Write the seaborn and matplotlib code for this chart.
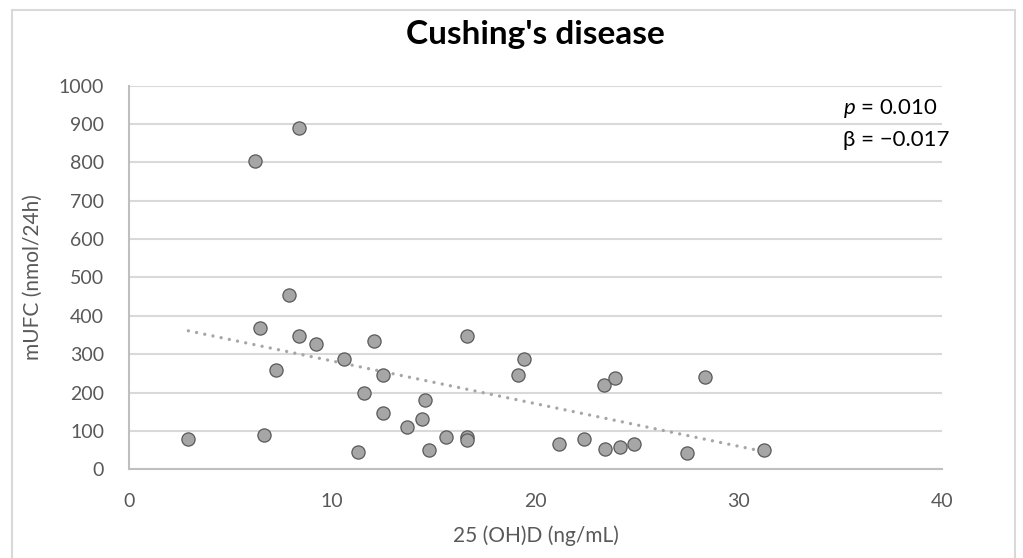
import numpy as np
import pandas as pd
import matplotlib.pyplot as plt
import matplotlib.patches as patches
import seaborn as sns

# 25(OH)D vs mUFC, Cushing's disease
vitd = [2.92, 6.21, 8.36, 7.86, 6.44, 8.36, 9.18, 7.25, 6.63, 10.56,
        12.07, 12.51, 11.56, 12.51, 11.25, 13.69, 14.55, 14.43, 14.76, 15.58,
        16.63, 16.63, 16.63, 19.43, 19.12, 21.17, 22.37, 23.38, 23.89, 23.43,
        24.15, 24.87, 27.45, 28.32, 31.25]
mufc = [80, 805, 890, 454, 368, 347, 326, 260, 90, 288,
        335, 245, 199, 148, 45, 110, 180, 131, 50, 85,
        347, 85, 77, 288, 245, 67, 78, 221, 239, 54,
        59, 67, 42, 241, 50]
# linear trendline end points as shown in the chart
trend_x = [2.92, 31.25]
trend_y = [361, 46]
x_ticks = [0, 10, 20, 30, 40]
y_ticks = [0, 100, 200, 300, 400, 500, 600, 700, 800, 900, 1000]

df = pd.DataFrame({'vitd': vitd, 'mufc': mufc})
trend = pd.DataFrame({'vitd': trend_x, 'mufc': trend_y})

sns.set_style('white')
plt.rcParams['font.family'] = ['Lato', 'DejaVu Sans']
plt.rcParams['mathtext.fontset'] = 'custom'
plt.rcParams['mathtext.it'] = 'Lato:italic'
plt.rcParams['mathtext.rm'] = 'Lato'

fig = plt.figure(figsize=(10.23, 5.58), dpi=100)
ax = fig.add_axes([0.1261, 0.1590, 0.7947, 0.6874])

sns.lineplot(x='vitd', y='mufc', data=trend, ax=ax, color='#a6a6a6', lw=2.4,
             linestyle=(0, (0.01, 2.5)), dash_capstyle='round', zorder=2)
sns.scatterplot(x='vitd', y='mufc', data=df, ax=ax, s=90, color='#a6a6a6',
                edgecolor='#595959', linewidth=0.9, zorder=3)

ax.set_xlim(0, 40)
ax.set_ylim(0, 1000)
ax.set_xticks(x_ticks)
ax.set_yticks(y_ticks)
ax.yaxis.grid(True, color='#d9d9d9', lw=1.5)
ax.set_axisbelow(True)
for s in ['top', 'right']:
    ax.spines[s].set_visible(False)
for s in ['left', 'bottom']:
    ax.spines[s].set_color('#bfbfbf')
    ax.spines[s].set_linewidth(1.5)
ax.tick_params(axis='both', length=0, labelsize=14, labelcolor='#595959')
ax.tick_params(axis='y', pad=18)
ax.tick_params(axis='x', pad=17)

ax.set_xlabel('25 (OH)D (ng/mL)', fontsize=15, color='#595959', labelpad=11)
ax.set_ylabel('mUFC (nmol/24h)', fontsize=15, color='#595959', labelpad=11)
ax.text(0.5, 1 + 51 / 383.6, "Cushing's disease", transform=ax.transAxes,
        fontsize=24, fontweight='bold', color='black', ha='center', va='center')

fig.text(0.824, 0.806, '$p$ = 0.010', fontsize=16, color='black', ha='left', va='center')
fig.text(0.824, 0.749, 'β = −0.017', fontsize=16, color='black', ha='left', va='center')

border = patches.Rectangle((12 / 1023, -0.05), (1015 - 12) / 1023, 1.05 - 10 / 558,
                           transform=fig.transFigure, fill=False, edgecolor='#d9d9d9', lw=1.5, clip_on=False)
fig.patches.append(border)

plt.savefig('out.png', dpi=100)
